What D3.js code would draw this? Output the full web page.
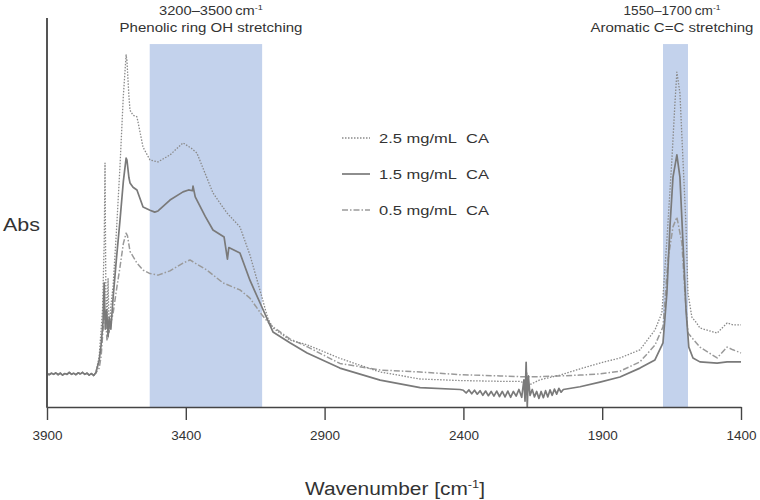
<!DOCTYPE html>
<html><head><meta charset="utf-8">
<script src="https://cdn.jsdelivr.net/npm/d3@7"></script>
<style>body{margin:0;background:#fff}svg{font-family:"Liberation Sans",Arial,sans-serif}</style>
</head><body><svg id="c" width="760" height="500"></svg>
<script>
const xTicks=[3900,3400,2900,2400,1900,1400];
const bands=[[3530,3125],[1681,1591]];
const bandLabels=[["3200–3500","Phenolic ring OH stretching"],["1550–1700","Aromatic C=C stretching"]];
const seriesNames=["2.5 mg/mL\u00a0 CA","1.5 mg/mL\u00a0 CA","0.5 mg/mL\u00a0 CA"];
const baseLeft=[[3900,0.086],[3892,0.083],[3884,0.087],[3876,0.084],[3868,0.088],[3860,0.083],[3852,0.087],[3844,0.082],[3836,0.086],[3828,0.084],[3820,0.089],[3812,0.084],[3804,0.087],[3796,0.083],[3788,0.088],[3780,0.085],[3772,0.089],[3764,0.084],[3756,0.087],[3748,0.082],[3740,0.086],[3732,0.081],[3724,0.088]];
const ca25=[[3712,0.13],[3700,0.25],[3694,0.42],[3691,0.627],[3688,0.3],[3684,0.22],[3680,0.33],[3676,0.19],[3670,0.26],[3662,0.31],[3650,0.45],[3637,0.62],[3625,0.8],[3615,0.905],[3612,0.89],[3605,0.8],[3601,0.763],[3590,0.75],[3576,0.746],[3554,0.668],[3529,0.635],[3500,0.63],[3457,0.648],[3410,0.679],[3380,0.665],[3360,0.653],[3302,0.55],[3252,0.499],[3205,0.463],[3169,0.391],[3126,0.283],[3105,0.229],[3086,0.203],[3025,0.172],[2963,0.16],[2845,0.125],[2700,0.09],[2556,0.072],[2412,0.068],[2268,0.066],[2196,0.066],[2176,0.06],[2172,0.09],[2168,0.055],[2124,0.07],[2052,0.082],[1980,0.098],[1908,0.113],[1836,0.126],[1764,0.147],[1710,0.198],[1685,0.242],[1667,0.429],[1649,0.635],[1638,0.781],[1631,0.861],[1620,0.807],[1609,0.635],[1598,0.463],[1591,0.293],[1577,0.231],[1560,0.216],[1548,0.203],[1486,0.19],[1450,0.216],[1429,0.211],[1400,0.211]];
const ca15=[[3712,0.12],[3705,0.16],[3698,0.22],[3694,0.319],[3690,0.2],[3685,0.25],[3680,0.18],[3676,0.23],[3670,0.2],[3662,0.28],[3650,0.38],[3637,0.48],[3625,0.58],[3615,0.64],[3612,0.635],[3605,0.59],[3601,0.576],[3590,0.565],[3576,0.558],[3554,0.514],[3529,0.506],[3512,0.501],[3500,0.504],[3457,0.532],[3410,0.553],[3390,0.558],[3376,0.556],[3374,0.568],[3366,0.54],[3330,0.49],[3302,0.455],[3262,0.437],[3250,0.38],[3245,0.41],[3205,0.396],[3169,0.326],[3126,0.257],[3086,0.193],[3025,0.165],[2963,0.139],[2845,0.1],[2700,0.069],[2556,0.05],[2412,0.045],[2400,0.043],[2390,0.036],[2380,0.044],[2370,0.034],[2360,0.043],[2350,0.033],[2340,0.042],[2330,0.03],[2320,0.041],[2310,0.029],[2300,0.04],[2290,0.028],[2280,0.041],[2270,0.027],[2260,0.04],[2250,0.026],[2240,0.041],[2230,0.025],[2220,0.04],[2210,0.028],[2200,0.045],[2190,0.025],[2182,0.07],[2178,0.015],[2174,0.115],[2170,0.0],[2166,0.08],[2160,0.03],[2152,0.045],[2144,0.026],[2136,0.04],[2128,0.022],[2120,0.04],[2112,0.024],[2104,0.042],[2096,0.026],[2088,0.044],[2080,0.03],[2072,0.046],[2064,0.033],[2056,0.048],[2048,0.038],[2040,0.045],[1980,0.052],[1908,0.064],[1836,0.077],[1764,0.1],[1710,0.121],[1681,0.165],[1667,0.293],[1656,0.463],[1645,0.591],[1631,0.648],[1620,0.591],[1609,0.422],[1598,0.249],[1588,0.154],[1573,0.126],[1548,0.116],[1486,0.113],[1450,0.116],[1400,0.116]];
const ca05=[[3712,0.1],[3705,0.13],[3698,0.2],[3690,0.249],[3684,0.17],[3676,0.2],[3662,0.24],[3650,0.3],[3637,0.36],[3625,0.42],[3615,0.447],[3610,0.44],[3601,0.4],[3576,0.37],[3554,0.352],[3529,0.343],[3500,0.339],[3457,0.35],[3410,0.37],[3385,0.378],[3324,0.352],[3266,0.319],[3205,0.301],[3169,0.28],[3126,0.237],[3100,0.215],[3086,0.206],[3025,0.175],[2963,0.155],[2845,0.112],[2700,0.095],[2556,0.09],[2412,0.083],[2268,0.08],[2196,0.078],[2124,0.078],[2052,0.08],[1980,0.082],[1908,0.085],[1836,0.092],[1764,0.116],[1710,0.159],[1681,0.206],[1663,0.378],[1645,0.463],[1631,0.488],[1613,0.422],[1602,0.293],[1591,0.19],[1548,0.154],[1486,0.126],[1450,0.154],[1429,0.147],[1400,0.139]];

const svg=d3.select("#c");
const x=d3.scaleLinear().domain([3900,1400]).range([47,741]);
const y=d3.scaleLinear().domain([0,1]).range([407,18]);
const bandTop=0.933;

function fitWidth(sel,cx,w){
  const bw=sel.node().getBBox().width;
  const s=w/bw;
  sel.attr("transform",`translate(${cx},0) scale(${s},1) translate(${-cx},0)`);
}

svg.selectAll("rect.band").data(bands).join("rect").attr("class","band")
 .attr("x",d=>x(d[0])).attr("width",d=>x(d[1])-x(d[0]))
 .attr("y",y(bandTop)).attr("height",y(0)-y(bandTop)).attr("fill","#c3d2ec");

const labelCx=[211,672];
const labelW=[[104,183],[97,163]];
bands.forEach((b,i)=>{
  const cx=labelCx[i];
  const t1=svg.append("text").attr("x",cx).attr("y",15).attr("text-anchor","middle").attr("font-size",12).attr("fill","#333");
  t1.append("tspan").text(bandLabels[i][0]+"\u2009cm");
  t1.append("tspan").attr("dy",-5).attr("font-size",7.5).text("-1");
  fitWidth(t1,cx,labelW[i][0]);
  const t2=svg.append("text").attr("x",cx).attr("y",32).attr("text-anchor","middle").attr("font-size",12).attr("fill","#333").text(bandLabels[i][1]);
  fitWidth(t2,cx,labelW[i][1]);
});

const line=d3.line().x(d=>x(d[0])).y(d=>y(d[1]));
const styles=[
 {stroke:"#8a8a8a",w:1.3,dash:"1.5,1.5"},
 {stroke:"#7a7a7a",w:1.7,dash:null},
 {stroke:"#9a9a9a",w:1.5,dash:"6,2,1.5,2"}
];
const data=[ca25,ca15,ca05];
[2,0,1].forEach(i=>{
  svg.append("path").datum(baseLeft.concat(data[i])).attr("d",line)
   .attr("fill","none").attr("stroke",styles[i].stroke).attr("stroke-width",styles[i].w)
   .attr("stroke-dasharray",styles[i].dash).attr("stroke-linejoin","round");
});

const ax=svg.append("g").attr("transform","translate(0,407)")
 .call(d3.axisBottom(x).tickValues(xTicks).tickSize(13).tickSizeOuter(0).tickFormat(d3.format("d")));
ax.select(".domain").attr("stroke","#444").attr("stroke-width",1.6);
ax.selectAll(".tick line").attr("stroke","#444").attr("stroke-width",1.4);
ax.selectAll(".tick text").attr("font-size",13.5).attr("fill","#333").attr("dy","1.25em").attr("font-family","Liberation Sans, Arial");
svg.append("line").attr("x1",47).attr("x2",47).attr("y1",y(1)).attr("y2",407.8).attr("stroke","#555").attr("stroke-width",2);

const xt=svg.append("text").attr("x",395).attr("y",495).attr("text-anchor","middle").attr("font-size",18).attr("fill","#333");
xt.append("tspan").text("Wavenumber [cm");
xt.append("tspan").attr("dy",-7).attr("font-size",11).text("-1");
xt.append("tspan").attr("dy",7).text("]");
fitWidth(xt,395,180);
const ab=svg.append("text").attr("x",3).attr("y",231).attr("font-size",18).attr("fill","#333").text("Abs");
fitWidth(ab,3,37);

const lg=svg.append("g");
seriesNames.forEach((n,i)=>{
  const yy=138+i*36;
  lg.append("line").attr("x1",342).attr("x2",370).attr("y1",yy).attr("y2",yy)
   .attr("stroke",styles[i].stroke).attr("stroke-width",styles[i].w).attr("stroke-dasharray",styles[i].dash);
  const t=lg.append("text").attr("x",379).attr("y",yy+5).attr("font-size",13.5).attr("fill","#333").text(n);
  fitWidth(t,379,110);
});
</script></body></html>
